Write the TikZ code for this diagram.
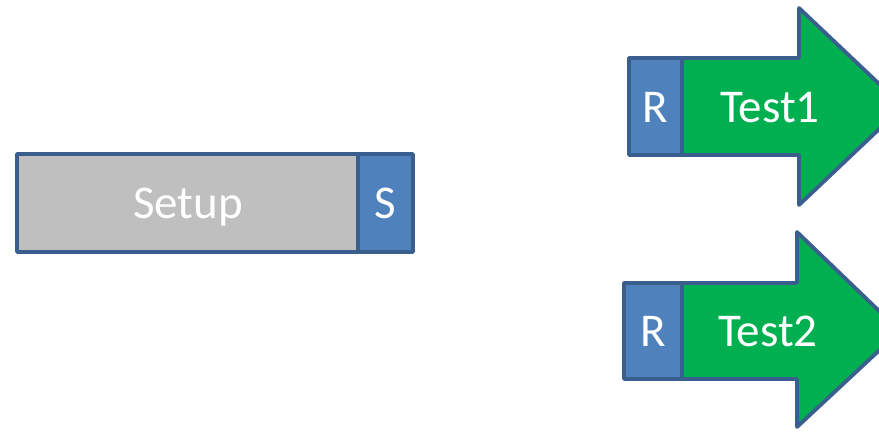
\documentclass[tikz,border=0pt]{standalone}
\usepackage{fontspec}
\setmainfont{Carlito}
\definecolor{edge}{HTML}{3A5F8E}
\definecolor{blu}{HTML}{4F81BD}
\definecolor{gry}{HTML}{BFBFBF}
\definecolor{grn}{HTML}{00B050}
\begin{document}
\begin{tikzpicture}[x=1pt,y=-1pt,
  outl/.style={draw=edge,line width=3.8pt,line join=round},
  lbl/.style={text=white,font=\fontsize{47}{54}\selectfont,inner sep=0pt,anchor=base}]
\useasboundingbox (0,0) rectangle (879,432);
\clip (0,0) rectangle (879,432);
% Setup block
\draw[outl,fill=gry] (17,154) rectangle (358,252);
\draw[outl,fill=blu] (358,154) rectangle (413,252);
\node[lbl] (setup) at (188,218) {Setup};
\node[lbl] (s) at (385.5,218) {S};
% Test1 arrow
\draw[outl,fill=grn] (682,58) -- (799,58) -- (799,8) -- (903,106.5) -- (799,205) -- (799,155) -- (682,155) -- cycle;
\draw[outl,fill=blu] (629,58) rectangle (682,155);
\node[lbl] (r1) at (655.5,122) {R};
\node[lbl] (t1) at (770,122) {Test1};
% Test2 arrow
\draw[outl,fill=grn] (682,283) -- (797,283) -- (797,232) -- (900,331) -- (797,427) -- (797,379) -- (682,379) -- cycle;
\draw[outl,fill=blu] (624,283) rectangle (682,379);
\node[lbl] (r2) at (653,346) {R};
\node[lbl] (t2) at (768,346) {Test2};
\end{tikzpicture}
\end{document}
